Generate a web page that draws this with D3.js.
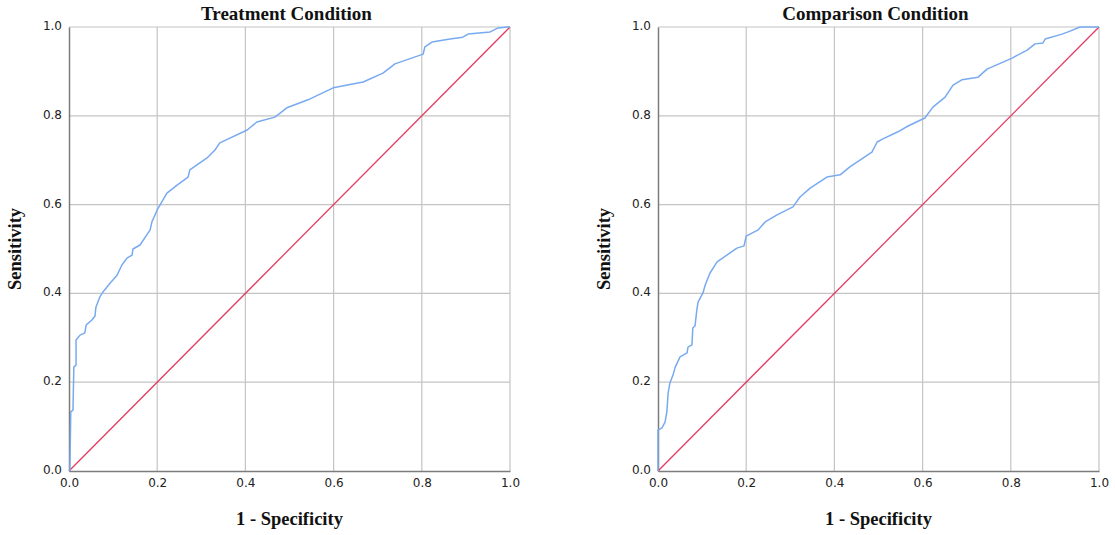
<!DOCTYPE html>
<html>
<head>
<meta charset="utf-8">
<script src="https://cdn.jsdelivr.net/npm/d3@7"></script>
<style>
  body { margin: 0; background: #fff; }
</style>
</head>
<body>
<div id="chart"></div>
<script>
// ROC curve points
const treatmentFpr = [0, 0.002, 0.004, 0.009, 0.011, 0.016, 0.016, 0.025, 0.036, 0.039, 0.052, 0.059, 0.061, 0.07, 0.077, 0.093, 0.109, 0.12, 0.132, 0.143, 0.145, 0.161, 0.184, 0.188, 0.2, 0.222, 0.245, 0.27, 0.274, 0.313, 0.331, 0.342, 0.404, 0.426, 0.467, 0.494, 0.542, 0.599, 0.667, 0.712, 0.739, 0.803, 0.807, 0.823, 0.864, 0.893, 0.905, 0.955, 0.973, 0.995, 1];
const treatmentTpr = [0, 0.002, 0.133, 0.137, 0.234, 0.239, 0.295, 0.306, 0.311, 0.329, 0.34, 0.349, 0.369, 0.392, 0.403, 0.423, 0.441, 0.464, 0.48, 0.486, 0.5, 0.509, 0.543, 0.561, 0.588, 0.626, 0.644, 0.662, 0.678, 0.705, 0.723, 0.739, 0.768, 0.786, 0.797, 0.818, 0.836, 0.863, 0.876, 0.896, 0.917, 0.939, 0.955, 0.966, 0.973, 0.977, 0.984, 0.989, 0.998, 1, 1];

const comparisonFpr = [0, 0, 0.009, 0.016, 0.02, 0.023, 0.027, 0.034, 0.039, 0.05, 0.066, 0.068, 0.077, 0.079, 0.084, 0.088, 0.091, 0.102, 0.107, 0.118, 0.125, 0.134, 0.156, 0.179, 0.195, 0.2, 0.227, 0.243, 0.27, 0.306, 0.322, 0.345, 0.383, 0.413, 0.435, 0.485, 0.497, 0.51, 0.544, 0.567, 0.605, 0.624, 0.651, 0.669, 0.689, 0.726, 0.746, 0.803, 0.837, 0.855, 0.873, 0.878, 0.916, 0.93, 0.957, 1];
const comparisonTpr = [0, 0.092, 0.097, 0.11, 0.133, 0.176, 0.198, 0.216, 0.234, 0.257, 0.266, 0.279, 0.284, 0.322, 0.327, 0.363, 0.381, 0.401, 0.419, 0.446, 0.457, 0.471, 0.486, 0.502, 0.507, 0.529, 0.543, 0.561, 0.577, 0.595, 0.617, 0.637, 0.662, 0.667, 0.685, 0.718, 0.741, 0.748, 0.764, 0.777, 0.795, 0.82, 0.842, 0.869, 0.881, 0.887, 0.905, 0.93, 0.948, 0.962, 0.964, 0.973, 0.984, 0.989, 1, 1];

const referenceLine = [0, 1];
const tickValues = [0, 0.2, 0.4, 0.6, 0.8, 1.0];

const panelTitles = ["Treatment Condition", "Comparison Condition"];
const xTitle = "1 - Specificity";
const yTitle = "Sensitivity";

// Layout
const totalWidth = 1115;
const totalHeight = 535;
const plotWidth = 441;
const plotHeight = 444;
const plotTop = 27;
const plotLefts = [69, 658];

const svg = d3.select("#chart")
    .append("svg")
        .attr("width", totalWidth)
        .attr("height", totalHeight);

const panels = [
    { title: panelTitles[0], fpr: treatmentFpr, tpr: treatmentTpr, left: plotLefts[0] },
    { title: panelTitles[1], fpr: comparisonFpr, tpr: comparisonTpr, left: plotLefts[1] }
];

const serif = "'Liberation Serif', 'Times New Roman', serif";

panels.forEach(p => {
    const g = svg.append("g")
        .attr("transform", `translate(${p.left},${plotTop})`);

    const x = d3.scaleLinear().domain([0, 1]).range([0, plotWidth]);
    const y = d3.scaleLinear().domain([0, 1]).range([plotHeight, 0]);

    // grid lines
    g.selectAll(".vgrid")
        .data(tickValues.slice(1))
        .join("line")
        .attr("x1", d => x(d))
        .attr("x2", d => x(d))
        .attr("y1", 0)
        .attr("y2", plotHeight)
        .attr("stroke", "#c4c4c4")
        .attr("stroke-width", 1.2);

    g.selectAll(".hgrid")
        .data(tickValues.slice(1))
        .join("line")
        .attr("x1", 0)
        .attr("x2", plotWidth)
        .attr("y1", d => y(d))
        .attr("y2", d => y(d))
        .attr("stroke", "#c4c4c4")
        .attr("stroke-width", 1.2);

    // axes
    const xAxis = g.append("g")
        .attr("transform", `translate(0,${plotHeight})`)
        .call(d3.axisBottom(x).tickValues(tickValues).tickFormat(d3.format(".1f")).tickSize(0).tickPadding(7));
    const yAxis = g.append("g")
        .call(d3.axisLeft(y).tickValues(tickValues).tickFormat(d3.format(".1f")).tickSize(0).tickPadding(7));

    [xAxis, yAxis].forEach(a => {
        a.select(".domain").attr("stroke", "#7c7c7c").attr("stroke-width", 1.5);
        a.selectAll("text")
            .style("font-family", "'DejaVu Sans', sans-serif")
            .style("font-size", "12px")
            .attr("fill", "#222");
    });
    yAxis.selectAll("text").attr("dy", "0.2em");

    // diagonal reference
    const line = d3.line()
        .x(d => x(d[0]))
        .y(d => y(d[1]));

    g.append("path")
        .datum(referenceLine.map(v => [v, v]))
        .attr("fill", "none")
        .attr("stroke", "#e33c62")
        .attr("stroke-width", 1.3)
        .attr("d", line);

    // ROC curve
    g.append("path")
        .datum(p.fpr.map((f, i) => [f, p.tpr[i]]))
        .attr("fill", "none")
        .attr("stroke", "#78aaf0")
        .attr("stroke-width", 1.5)
        .attr("stroke-linejoin", "round")
        .attr("d", line);

    // titles
    g.append("text")
        .attr("x", plotWidth / 2 - 3)
        .attr("y", -7)
        .attr("text-anchor", "middle")
        .style("font-family", serif)
        .style("font-size", "19px")
        .style("font-weight", "bold")
        .attr("fill", "#111")
        .text(p.title);

    g.append("text")
        .attr("x", plotWidth / 2)
        .attr("y", plotHeight + 54)
        .attr("text-anchor", "middle")
        .style("font-family", serif)
        .style("font-size", "18.5px")
        .style("font-weight", "bold")
        .attr("fill", "#111")
        .text(xTitle);

    g.append("text")
        .attr("transform", `translate(-48,${plotHeight / 2}) rotate(-90)`)
        .attr("text-anchor", "middle")
        .style("font-family", serif)
        .style("font-size", "18.5px")
        .style("font-weight", "bold")
        .attr("fill", "#111")
        .text(yTitle);
});
</script>
</body>
</html>
